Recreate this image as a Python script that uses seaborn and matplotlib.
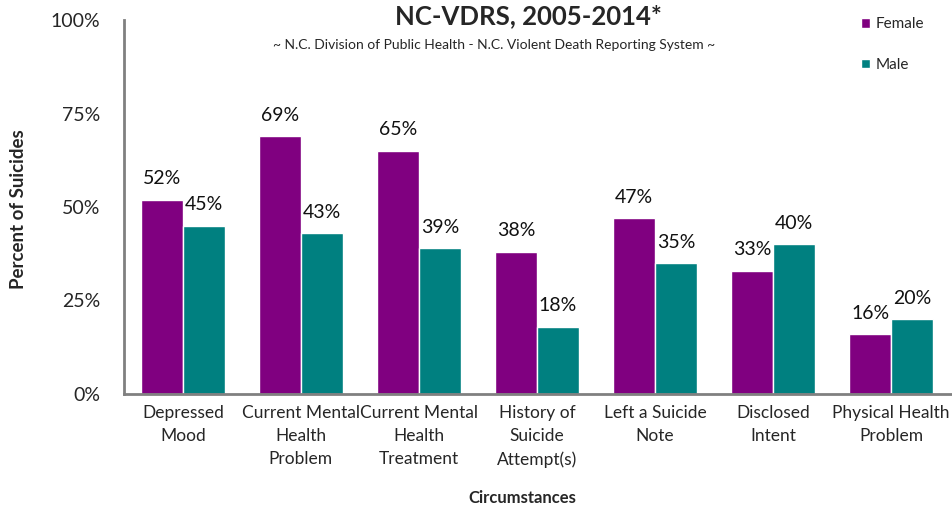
import matplotlib
matplotlib.use("Agg")
import matplotlib.pyplot as plt
import seaborn as sns
import pandas as pd

categories = [
    "Depressed\nMood",
    "Current Mental\nHealth\nProblem",
    "Current Mental\nHealth\nTreatment",
    "History of\nSuicide\nAttempt(s)",
    "Left a Suicide\nNote",
    "Disclosed\nIntent",
    "Physical Health\nProblem",
]
female = [52, 69, 65, 38, 47, 33, 16]
male = [45, 43, 39, 18, 35, 40, 20]
series = ["Female", "Male"]
colors = ["#800080", "#008080"]
yticks = [0, 25, 50, 75, 100]
ytick_labels = ["0%", "25%", "50%", "75%", "100%"]

df = pd.DataFrame({
    "Circumstance": categories * 2,
    "Sex": ["Female"] * len(categories) + ["Male"] * len(categories),
    "Percent": female + male,
})

sns.set_theme(style="white")
plt.rcParams["font.family"] = ["Lato", "DejaVu Sans"]

fig = plt.figure(figsize=(9.53, 5.05), dpi=100)
ax = fig.add_axes([0.130, 0.220, 0.870, 0.740])

sns.barplot(data=df, x="Circumstance", y="Percent", hue="Sex",
            hue_order=series, palette=colors, width=0.71, gap=0,
            saturation=1, errorbar=None, ax=ax, legend=True)

for cont in ax.containers:
    ax.bar_label(cont, labels=[f"{v:.0f}%" for v in cont.datavalues],
                 padding=9, fontsize=14, color="#111111")

ax.set_ylim(0, 100)
ax.set_xlim(-0.5, 6.525)
ax.set_yticks(yticks)
ax.set_yticklabels(ytick_labels, fontsize=14)
ax.tick_params(axis="y", length=0, pad=17)
ax.tick_params(axis="x", length=0, pad=8, labelsize=12.5)
for lab in ax.get_xticklabels():
    lab.set_linespacing(1.55)
ax.set_xlabel("")
ax.set_ylabel("")

for side in ["top", "right"]:
    ax.spines[side].set_visible(False)
for side in ["left", "bottom"]:
    ax.spines[side].set_color("#808080")
    ax.spines[side].set_linewidth(2)

leg = ax.legend(loc="upper left", bbox_to_anchor=(0.872, 1.045), frameon=False,
                fontsize=11, handlelength=0.6, handleheight=0.6,
                handletextpad=0.4, labelspacing=1.75)

fig.text(0.554, 0.968, "NC-VDRS, 2005-2014*", ha="center", va="center",
         fontsize=18.5, fontweight="bold")
fig.text(0.518, 0.910,
         "~ N.C. Division of Public Health - N.C. Violent Death Reporting System ~",
         ha="center", va="center", fontsize=10)
fig.text(0.019, 0.585, "Percent of Suicides", rotation=90, ha="center",
         va="center", fontsize=13.5, fontweight="bold")
fig.text(0.548, 0.013, "Circumstances", ha="center", va="center",
         fontsize=12, fontweight="bold")

fig.savefig("out.png", dpi=100)
